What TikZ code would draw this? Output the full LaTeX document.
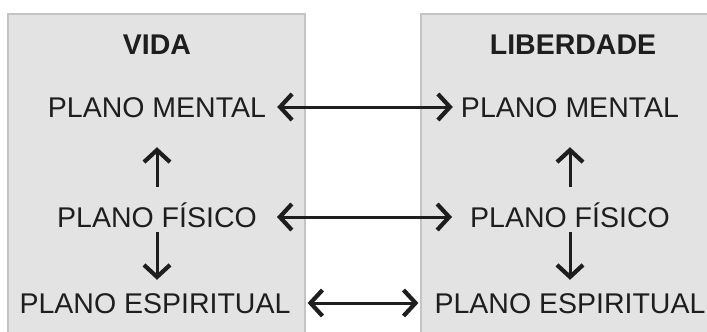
\documentclass[tikz,border=0pt]{standalone}
\usepackage{fontspec}
\setmainfont{Liberation Sans}
\usetikzlibrary{arrows.meta,positioning}
\definecolor{panelfill}{HTML}{E3E3E3}
\definecolor{paneldraw}{HTML}{C4C4C4}
\definecolor{ink}{HTML}{1E1E1E}
\newcommand{\planefont}{\fontsize{28.5}{34}\selectfont}
\tikzset{
  panel/.style={draw=paneldraw, line width=2pt, fill=panelfill, minimum width=297pt, minimum height=340pt, inner sep=0pt},
  title/.style={font=\planefont\bfseries, text=ink, inner sep=0pt, text height=20pt, text depth=0pt},
  plane/.style={font=\planefont, text=ink, inner sep=0pt, text height=20pt, text depth=0pt},
  tip/.tip={Straight Barb[length=12pt,width=26pt,line width'=4.2pt]},
  uparrow/.style={-tip, line width=3pt, draw=ink},
  twoway/.style={tip-tip, line width=3pt, draw=ink}
}

\begin{document}
\begin{tikzpicture}[x=1pt,y=-1pt]
  \clip (0,0) rectangle (707,332);
  \fill[white] (0,0) rectangle (707,332);

  \node[panel] (vidabox) at (156.5,184) {};
  \node[panel, minimum width=299pt] (libbox) at (570.5,184) {};

  \node[title] (vida) at (157,44) {VIDA};
  \node[title] (lib) at (573,44) {LIBERDADE};

  \node[plane] (mentalV) at (157,107) {PLANO MENTAL};
  \node[plane] (fisicoV) at (157,217) {PLANO FÍSICO};
  \node[plane] (espV) at (155,303) {PLANO ESPIRITUAL};

  \node[plane] (mentalL) at (570,107) {PLANO MENTAL};
  \node[plane] (fisicoL) at (570,217) {PLANO FÍSICO};
  \node[plane] (espL) at (570,303) {PLANO ESPIRITUAL};

  \draw[uparrow, shorten <=20pt, shorten >=30pt] (fisicoV.north) -- (mentalV.south);
  \draw[uparrow, shorten <=5pt, shorten >=13pt] (fisicoV.south) -- (espV.north -| fisicoV);
  \draw[uparrow, shorten <=20pt, shorten >=30pt] (fisicoL.north) -- (mentalL.south);
  \draw[uparrow, shorten <=5pt, shorten >=13pt] (fisicoL.south) -- (espL.north -| fisicoL);

  \draw[twoway, shorten <=11pt, shorten >=8pt] (mentalV.east) -- (mentalL.west);
  \draw[twoway, shorten <=20pt, shorten >=18pt] (fisicoV.east) -- (fisicoL.west);
  \draw[twoway, shorten <=17pt, shorten >=16pt] (espV.east) -- (espL.west);
\end{tikzpicture}
\end{document}
